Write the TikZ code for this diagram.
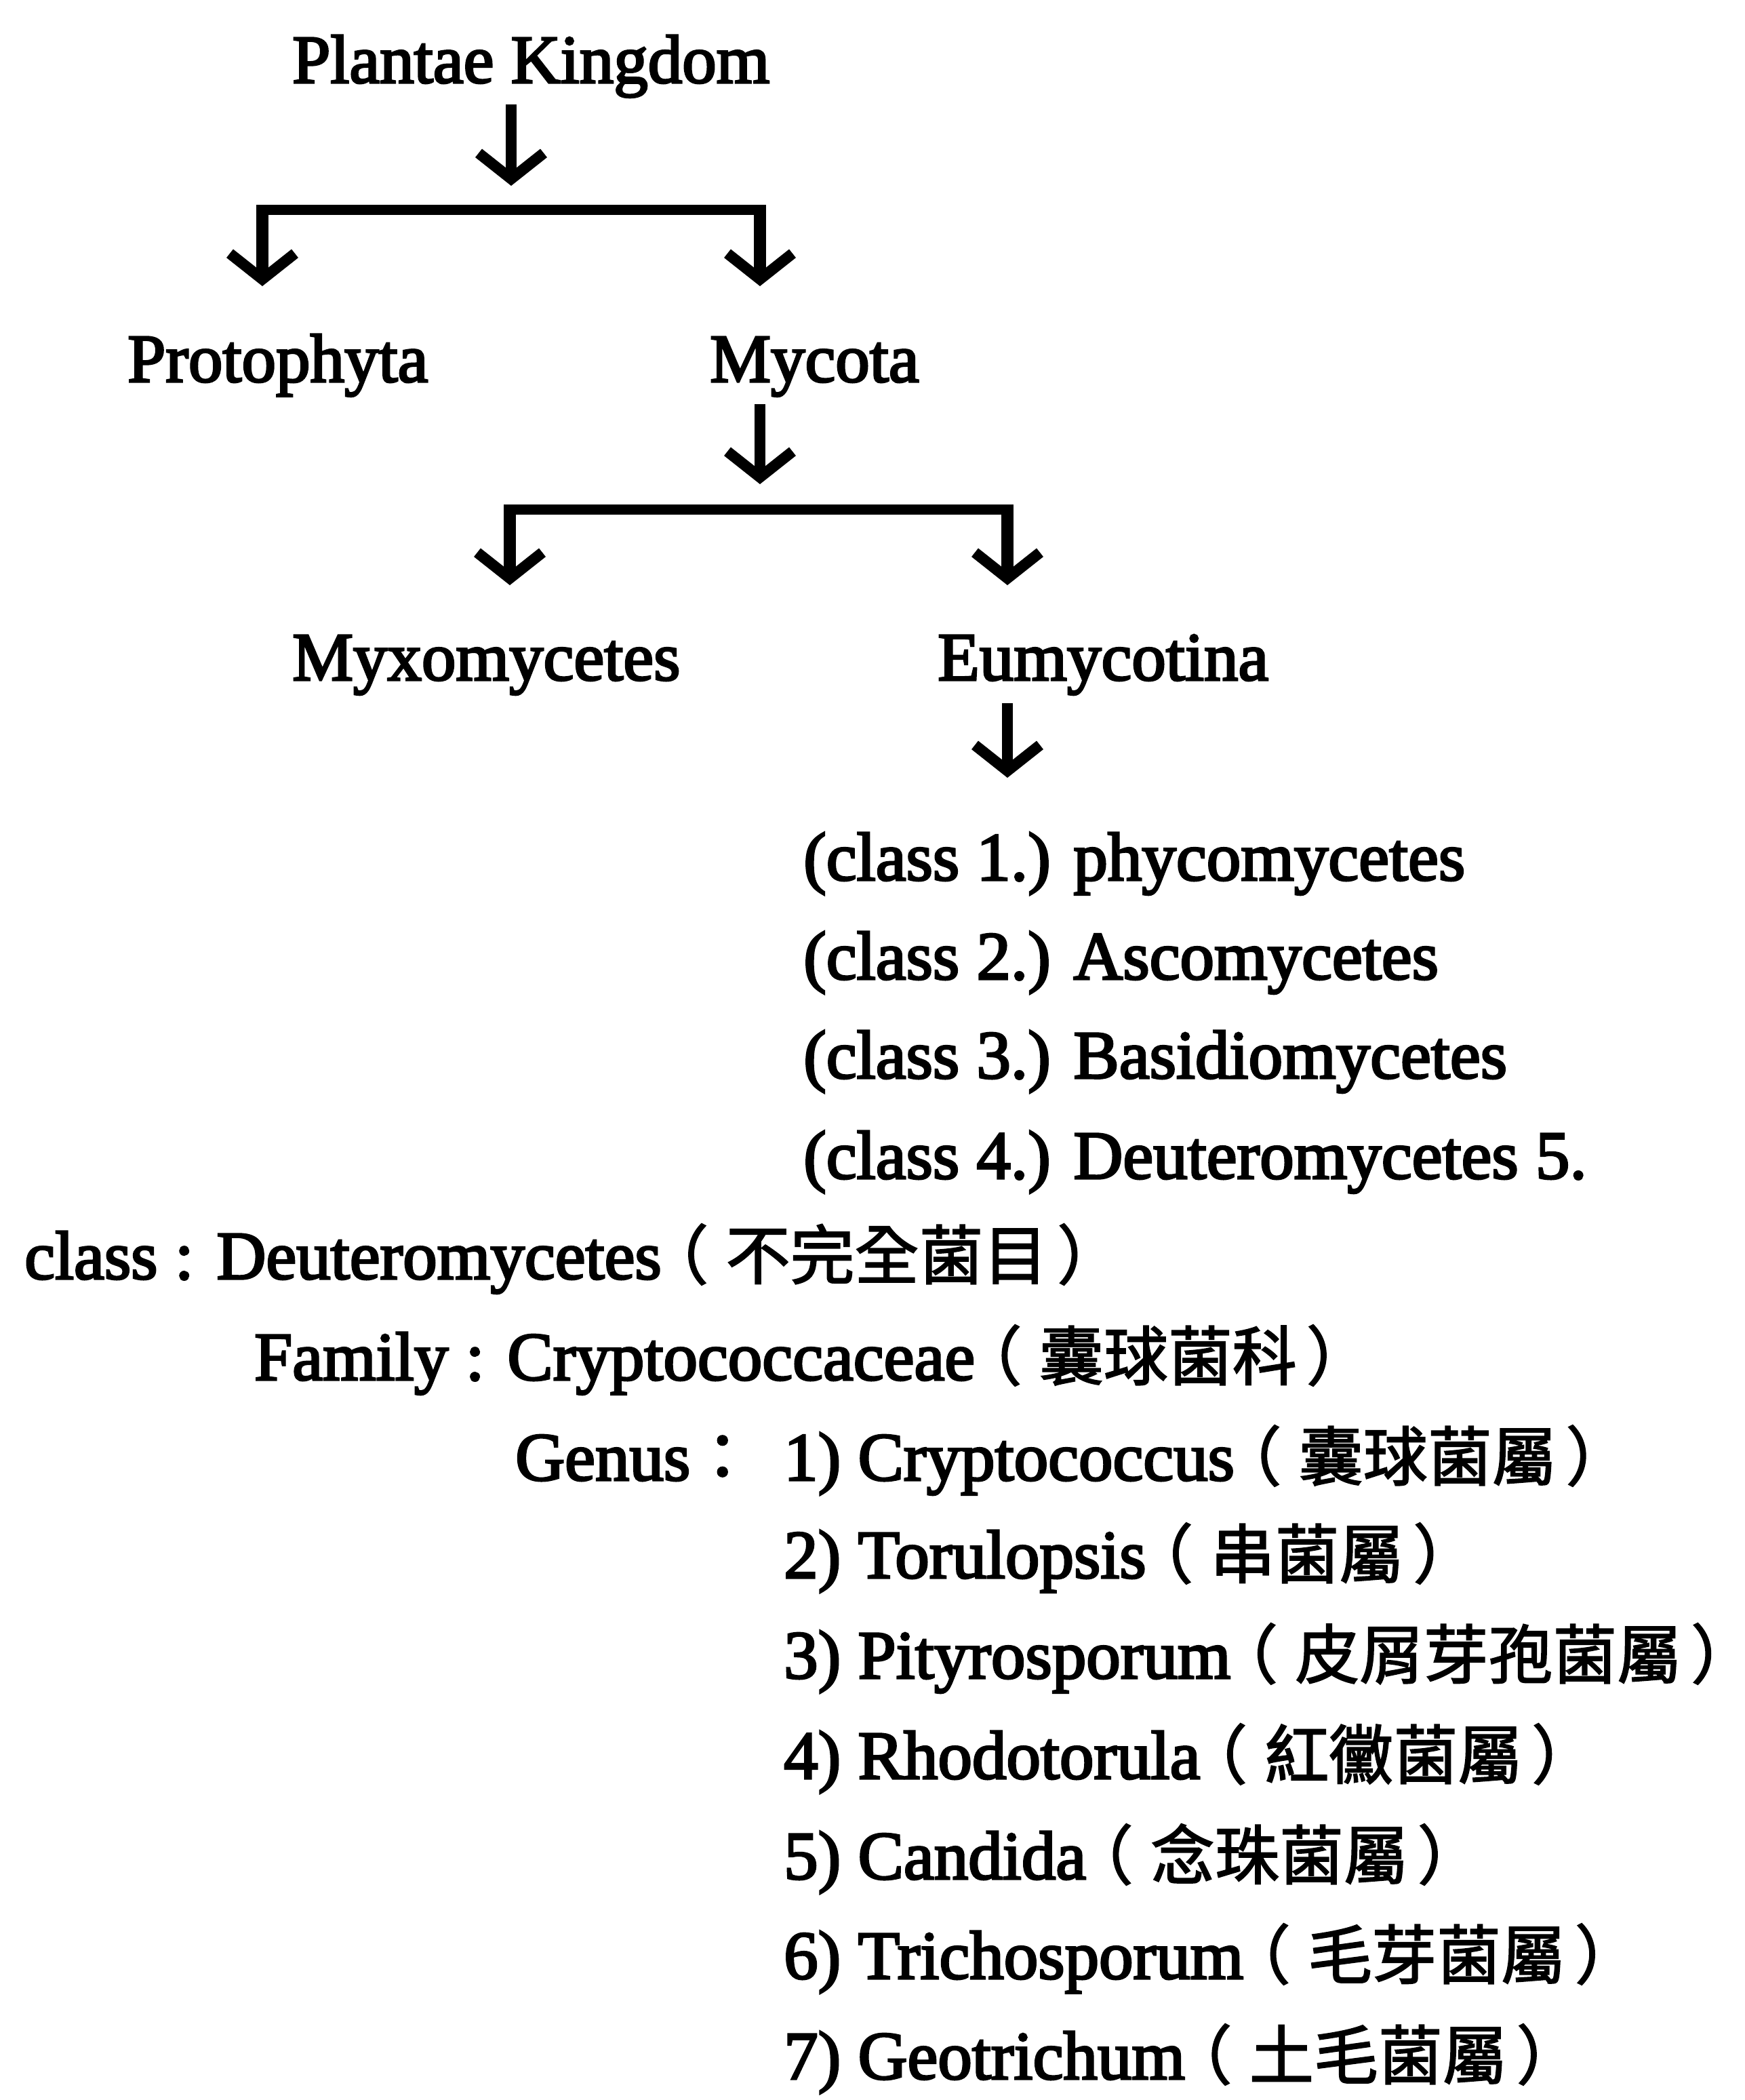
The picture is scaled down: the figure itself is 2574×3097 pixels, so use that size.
\documentclass[tikz,border=0pt]{standalone}
\usepackage{fontspec}
\setmainfont{Liberation Serif}
\newfontfamily\heavy{Liberation Serif}[FakeBold=3]
\newfontfamily\cjk{Noto Sans CJK TC}[Scale=0.94, FakeBold=2]
\newcommand\myLP{{\cjk\kern-0.27em （\kern0.27em}}
\newcommand\myRP{{\cjk\kern0.15em ）\kern-0.6em}}
\usetikzlibrary{arrows.meta}
\begin{document}
\begin{tikzpicture}[x=1pt,y=-1pt,
  lbl/.style={anchor=base west, inner sep=0pt, font=\fontsize{101}{120}\heavy},
  vhead/.tip={Straight Barb[length=38pt,width=96pt,line width=16pt]},
  stem/.style={line width=16pt, -vhead},
  drop/.style={line width=18pt, -vhead},
  barline/.style={line width=15pt}]
\useasboundingbox (0,0) rectangle (2574,3097);
% texts
\node[lbl] (plantae) at (431,122) {Plantae Kingdom};
\node[lbl] (proto) at (188,563) {Protophyta};
\node[lbl] (myco) at (1047,563) {Mycota};
\node[lbl] (myxo) at (431,1003) {Myxomycetes};
\node[lbl] (eumy) at (1383,1003) {Eumycotina};
\node[lbl] (c1) at (1185,1298) {(class 1.) phycomycetes};
\node[lbl] (c2) at (1185,1444) {(class 2.) Ascomycetes};
\node[lbl] (c3) at (1185,1590) {(class 3.) Basidiomycetes};
\node[lbl] (c4) at (1185,1738) {(class 4.) Deuteromycetes 5.};
\node[lbl] (cls) at (36,1886) {class : Deuteromycetes\myLP{\cjk 不完全菌目}\myRP};
\node[lbl] (fam) at (375,2035) {Family : Cryptococcaceae\myLP{\cjk 囊球菌科}\myRP};
\node[lbl] (genus) at (760,2183) {Genus{\cjk ：}};
\node[lbl] (g1) at (1156,2183) {1) Cryptococcus\myLP{\cjk 囊球菌屬}\myRP};
\node[lbl] (g2) at (1156,2327) {2) Torulopsis\myLP{\cjk 串菌屬}\myRP};
\node[lbl] (g3) at (1156,2475) {3) Pityrosporum\myLP{\cjk 皮屑芽孢菌屬}\myRP};
\node[lbl] (g4) at (1156,2623) {4) Rhodotorula\myLP{\cjk 紅黴菌屬}\myRP};
\node[lbl] (g5) at (1156,2771) {5) Candida\myLP{\cjk 念珠菌屬}\myRP};
\node[lbl] (g6) at (1156,2918) {6) Trichosporum\myLP{\cjk 毛芽菌屬}\myRP};
\node[lbl] (g7) at (1156,3066) {7) Geotrichum\myLP{\cjk 土毛菌屬}\myRP};
% arrow coordinates
\coordinate (a1s) at (754,154);  \coordinate (a1e) at (754,274);
\coordinate (k1L) at (387,309);  \coordinate (k1R) at (1121,309);
\coordinate (k1Lt) at (387,422); \coordinate (k1Rt) at (1121,422);
\coordinate (a2s) at (1121,596); \coordinate (a2e) at (1121,714);
\coordinate (k2L) at (752,751);  \coordinate (k2R) at (1486,751);
\coordinate (k2Lt) at (752,863); \coordinate (k2Rt) at (1486,863);
\coordinate (a3s) at (1486,1037); \coordinate (a3e) at (1486,1147);
% arrows
\draw[stem] (a1s) -- (a1e);
\draw[barline] ([xshift=-9pt]k1L) -- ([xshift=9pt]k1R);
\draw[drop] (k1L) -- (k1Lt);
\draw[drop] (k1R) -- (k1Rt);
\draw[stem] (a2s) -- (a2e);
\draw[barline] ([xshift=-9pt]k2L) -- ([xshift=9pt]k2R);
\draw[drop] (k2L) -- (k2Lt);
\draw[drop] (k2R) -- (k2Rt);
\draw[stem] (a3s) -- (a3e);
\end{tikzpicture}
\end{document}
